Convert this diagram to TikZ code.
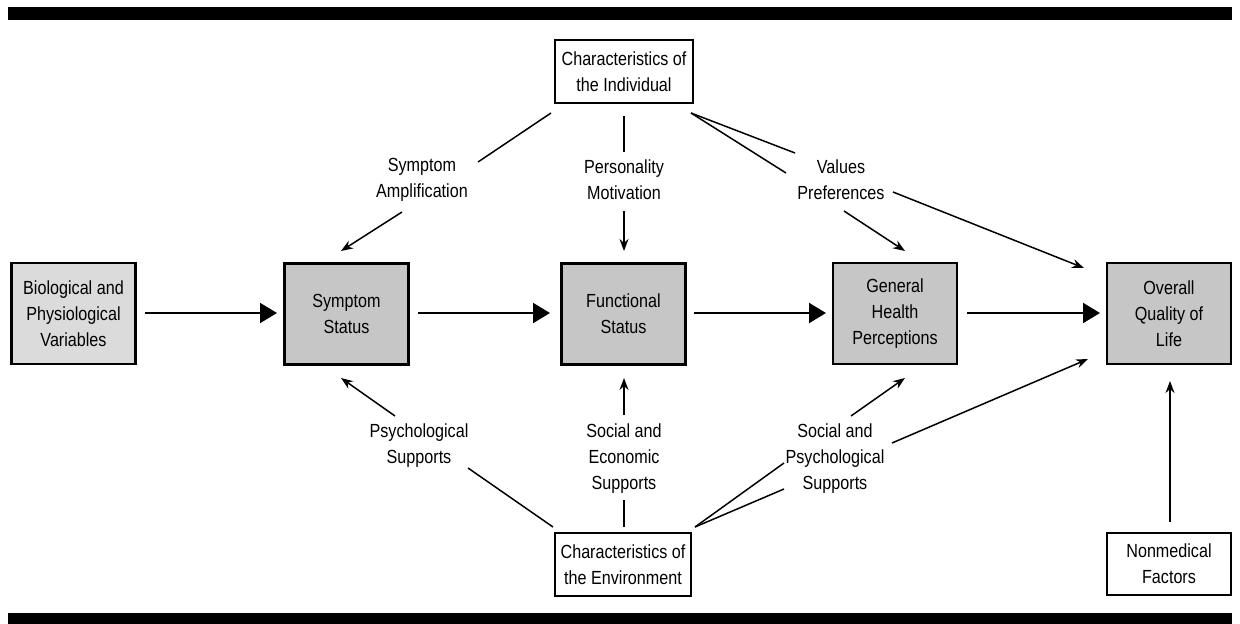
\documentclass[tikz,border=0pt]{standalone}
\usepackage{fontspec}
\setmainfont{Liberation Sans}[FakeStretch=0.85]
\usetikzlibrary{arrows.meta}
\begin{document}
\begin{tikzpicture}[x=1pt,y=-1pt,
  every node/.style={font=\fontsize{19}{26}\selectfont, align=center, inner sep=0pt},
  graybox/.style={draw, line width=2.4pt, fill=gray!45, minimum width=124pt, minimum height=101pt},
  lightbox/.style={graybox, fill=gray!28},
  whitebox/.style={draw, line width=1.6pt, fill=white, minimum height=63pt},
  bigarrow/.style={line width=2pt, -{Triangle[length=17pt,width=20pt]}},
  thinline/.style={line width=1.5pt},
  thinarrow/.style={line width=1.5pt, -{Stealth[length=12pt,width=9pt]}},
  lbl/.style={}
]
\useasboundingbox (0,0) rectangle (1240,624);
% bars
\fill (8,7) rectangle (1232,20);
\fill (8,613) rectangle (1232,624);

% main boxes
\node[lightbox] (bio) at (73.5,313.5) {Biological and\\Physiological\\Variables};
\node[graybox] (sym) at (346.5,314) {Symptom\\Status};
\node[graybox] (fun) at (623.5,314) {Functional\\Status};
\node[graybox] (gen) at (895,313.5) {General\\Health\\Perceptions};
\node[graybox] (qol) at (1169,313.5) {Overall\\Quality of\\Life};

% white boxes
\node[whitebox, minimum width=138pt] (ind) at (624,71.5) {Characteristics of\\the Individual};
\node[whitebox, minimum width=136pt] (env) at (623,564.5) {Characteristics of\\the Environment};
\node[whitebox, minimum width=124pt, minimum height=62pt] (nonmed) at (1169,564) {Nonmedical\\Factors};

% labels
\node[lbl] (amp) at (422,180) {Symptom\\Amplification};
\node[lbl] (pers) at (624,180) {Personality\\Motivation};
\node[lbl] (val) at (841,180) {Values\\Preferences};
\node[lbl] (psy) at (419,446) {Psychological\\Supports};
\node[lbl] (soce) at (624,459) {Social and\\Economic\\Supports};
\node[lbl] (socp) at (835,459) {Social and\\Psychological\\Supports};

% main horizontal arrows
\coordinate (h1a) at (145,313); \coordinate (h1b) at (277,313);
\coordinate (h2a) at (418,313); \coordinate (h2b) at (550,313);
\coordinate (h3a) at (694,313); \coordinate (h3b) at (826,313);
\coordinate (h4a) at (967,313); \coordinate (h4b) at (1100,313);
\draw[bigarrow] (h1a) -- (h1b);
\draw[bigarrow] (h2a) -- (h2b);
\draw[bigarrow] (h3a) -- (h3b);
\draw[bigarrow] (h4a) -- (h4b);

% from individual
\coordinate (i1) at (551,113); \coordinate (a1) at (478,162);
\coordinate (a2) at (402,212); \coordinate (s1) at (341,251);
\draw[thinline] (i1) -- (a1);
\draw[thinarrow] (a2) -- (s1);

\coordinate (i2) at (624,116); \coordinate (p1) at (624,152);
\coordinate (p2) at (624,211); \coordinate (f1) at (624,251);
\draw[thinline] (i2) -- (p1);
\draw[thinarrow] (p2) -- (f1);

\coordinate (i3) at (691,113);
\coordinate (v1) at (795,153); \coordinate (v2) at (786,173);
\coordinate (v3) at (844,211); \coordinate (g1) at (905,251);
\coordinate (v4) at (893,192); \coordinate (q1) at (1084,268);
\draw[thinline] (i3) -- (v1);
\draw[thinline] (i3) -- (v2);
\draw[thinarrow] (v3) -- (g1);
\draw[thinarrow] (v4) -- (q1);

% from environment
\coordinate (e1) at (553,527); \coordinate (ps1) at (468,468);
\coordinate (ps2) at (395,416); \coordinate (s2) at (341,378);
\draw[thinline] (e1) -- (ps1);
\draw[thinarrow] (ps2) -- (s2);

\coordinate (e2) at (624,527); \coordinate (se1) at (624,500);
\coordinate (se2) at (624,415); \coordinate (f2) at (624,378);
\draw[thinline] (e2) -- (se1);
\draw[thinarrow] (se2) -- (f2);

\coordinate (e3) at (695,527);
\coordinate (sp1) at (784,463); \coordinate (sp2) at (784,489);
\coordinate (sp3) at (851,416); \coordinate (g2) at (905,378);
\coordinate (sp4) at (892,443); \coordinate (q2) at (1088,359);
\draw[thinline] (e3) -- (sp1);
\draw[thinline] (e3) -- (sp2);
\draw[thinarrow] (sp3) -- (g2);
\draw[thinarrow] (sp4) -- (q2);

% nonmedical
\coordinate (n1) at (1170,522); \coordinate (q3) at (1170,381);
\draw[thinarrow] (n1) -- (q3);
\end{tikzpicture}
\end{document}
